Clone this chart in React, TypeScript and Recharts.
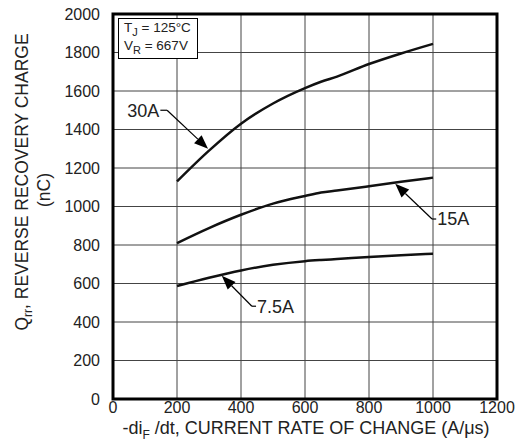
import React from 'react';
import {
  LineChart, Line, XAxis, YAxis, CartesianGrid, ReferenceArea, ReferenceLine, ReferenceDot,
} from 'recharts';

const X_TICKS = [0, 200, 400, 600, 800, 1000, 1200];
const Y_TICKS = [0, 200, 400, 600, 800, 1000, 1200, 1400, 1600, 1800, 2000];

const RATE = [200, 300, 400, 500, 600, 650, 700, 800, 900, 1000];
const Q_30A = [1130, 1290, 1430, 1535, 1615, 1648, 1675, 1740, 1795, 1845];
const Q_15A = [810, 888, 957, 1015, 1055, 1073, 1083, 1105, 1128, 1150];
const Q_7_5A = [587, 630, 668, 697, 716, 722, 727, 738, 747, 755];

// annotation: label, text anchor, bend point, arrow tip (data units)
const NOTES = [
  { text: '30A', side: 'left', anchor: [148, 1500], bend: [169, 1500], tip: [297, 1300] },
  { text: '15A', side: 'right', anchor: [1010, 935], bend: [997, 935], tip: [882, 1118] },
  { text: '7.5A', side: 'right', anchor: [447, 482], bend: [434, 482], tip: [340, 640] },
];

const FONT = '"Liberation Sans", Arial, sans-serif';

const toRows = (ys: number[]) => RATE.map((x, i) => ({ x, y: ys[i] }));

const ArrowShape = (props: any) => {
  const { x1, y1, x2, y2 } = props;
  const ang = Math.atan2(y2 - y1, x2 - x1);
  const len = 14;
  const w = 5.5;
  const bx = x2 - len * Math.cos(ang);
  const by = y2 - len * Math.sin(ang);
  const px = -Math.sin(ang) * w;
  const py = Math.cos(ang) * w;
  return (
    <g>
      <line x1={x1} y1={y1} x2={bx} y2={by} stroke="#000" strokeWidth={1.2} />
      <polygon points={`${x2},${y2} ${bx + px},${by + py} ${bx - px},${by - py}`} fill="#000" />
    </g>
  );
};

const YLabel = (props: any) => {
  const cy = 182;
  return (
    <g fontFamily={FONT} fontSize={17.5} fill="#222">
      <text transform={`translate(28, ${cy}) rotate(-90)`} textAnchor="middle">
        Q<tspan fontSize={12} dy={4}>rr</tspan><tspan dy={-4}>, REVERSE RECOVERY CHARGE</tspan>
      </text>
      <text transform={`translate(50, ${cy + 8}) rotate(-90)`} textAnchor="middle">(nC)</text>
    </g>
  );
};

const XLabel = (props: any) => (
  <text x={306} y={434} textAnchor="middle" fontFamily={FONT} fontSize={18} fill="#222">
    -di<tspan fontSize={12} dy={5}>F</tspan><tspan dy={-5}> /dt, CURRENT RATE OF CHANGE (A/μs)</tspan>
  </text>
);

export default function App() {
  return (
    <div style={{ position: 'absolute', left: 0, top: 0, width: 518, height: 442, background: '#fff' }}>
      <LineChart width={518} height={442} margin={{ top: 14, right: 21, left: 53, bottom: 13 }}>
        <CartesianGrid stroke="#444" strokeWidth={1} />
        <XAxis
          type="number"
          dataKey="x"
          domain={[0, 1200]}
          ticks={X_TICKS}
          height={30}
          tickSize={0}
          tickMargin={3}
          axisLine={false}
          tick={{ fill: '#222', fontSize: 16, fontFamily: FONT }}
          label={<XLabel />}
        />
        <YAxis
          type="number"
          dataKey="y"
          domain={[0, 2000]}
          ticks={Y_TICKS}
          width={60}
          tickSize={0}
          tickMargin={13}
          axisLine={false}
          tick={{ fill: '#222', fontSize: 16, fontFamily: FONT }}
          label={<YLabel />}
        />
        <ReferenceArea x1={0} x2={1200} y1={0} y2={2000} fill="none" stroke="#000" strokeWidth={3} />
        <Line data={toRows(Q_30A)} dataKey="y" type="monotone" stroke="#111" strokeWidth={2.5} dot={false} isAnimationActive={false} />
        <Line data={toRows(Q_15A)} dataKey="y" type="monotone" stroke="#111" strokeWidth={2.5} dot={false} isAnimationActive={false} />
        <Line data={toRows(Q_7_5A)} dataKey="y" type="monotone" stroke="#111" strokeWidth={2.5} dot={false} isAnimationActive={false} />
        {NOTES.map(n => (
          <ReferenceLine
            key={n.text + 'a'}
            segment={[{ x: n.anchor[0], y: n.anchor[1] }, { x: n.bend[0], y: n.bend[1] }]}
            stroke="#000"
            strokeWidth={1.2}
          />
        ))}
        {NOTES.map(n => (
          <ReferenceLine
            key={n.text + 'b'}
            segment={[{ x: n.bend[0], y: n.bend[1] }, { x: n.tip[0], y: n.tip[1] }]}
            shape={ArrowShape}
          />
        ))}
        {NOTES.map(n => (
          <ReferenceDot
            key={n.text + 'c'}
            x={n.anchor[0]}
            y={n.anchor[1]}
            r={0}
            fill="none"
            stroke="none"
            label={{
              value: n.text,
              position: n.side === 'left' ? 'left' : 'right',
              offset: 1,
              fill: '#222',
              fontSize: 18,
              fontFamily: FONT,
            }}
          />
        ))}
      </LineChart>
      <div
        style={{
          position: 'absolute', left: 118, top: 18, width: 80, height: 41,
          border: '1.3px solid #000', background: '#fff', fontFamily: FONT,
          fontSize: 13.5, lineHeight: '18px', color: '#222', paddingLeft: 5, boxSizing: 'border-box',
        }}
      >
        <div>T<sub style={{ fontSize: 11, verticalAlign: '-4px', lineHeight: 0 }}>J</sub> = 125°C</div>
        <div>V<sub style={{ fontSize: 11, verticalAlign: '-4px', lineHeight: 0 }}>R</sub> = 667V</div>
      </div>
    </div>
  );
}
